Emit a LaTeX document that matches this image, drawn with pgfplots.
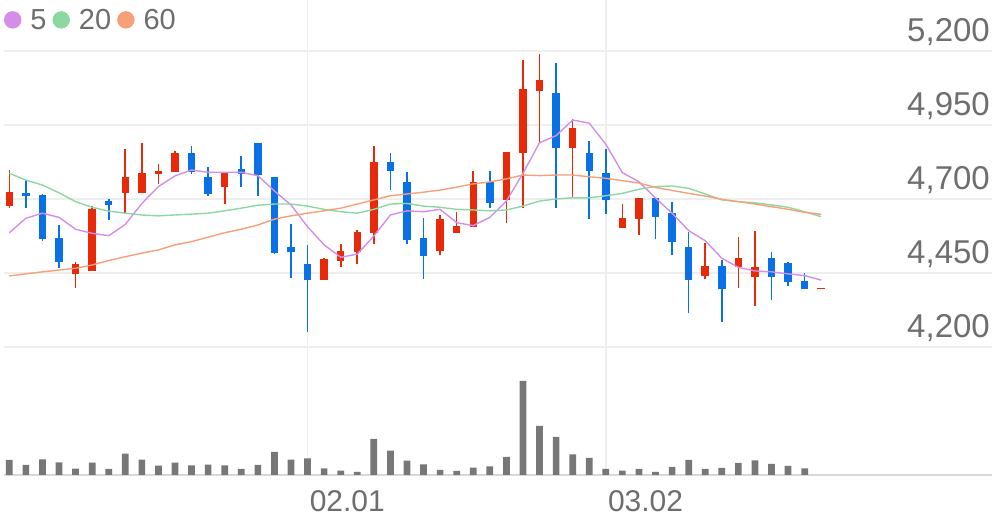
\documentclass[border=0pt]{standalone}
\usepackage{fontspec}
\setmainfont{Liberation Sans}
\usepackage{pgfplots}
\pgfplotsset{compat=1.18}
\usepackage{pgfplotstable}
\definecolor{upred}{HTML}{E62A0A}
\definecolor{dnblue}{HTML}{0A70E6}
\definecolor{mafive}{HTML}{D48EEA}
\definecolor{matwenty}{HTML}{8CD8A2}
\definecolor{masixty}{HTML}{F6A07A}
\definecolor{volgray}{HTML}{777777}
\definecolor{gridc}{HTML}{EEEEEE}
\definecolor{txtgray}{HTML}{6E6E6E}

\pgfplotstableread{
i open high low close
0 4676 4798 4669 4725
4 4447 4488 4400 4480
5 4458 4676 4458 4665
7 4719 4868 4649 4775
8 4721 4888 4721 4787
9 4783 4817 4750 4796
10 4792 4863 4792 4856
13 4742 4790 4683 4790
19 4426 4500 4426 4496
20 4492 4547 4469 4525
21 4520 4595 4479 4590
22 4586 4879 4547 4826
26 4525 4646 4511 4631
27 4586 4657 4586 4609
28 4606 4796 4606 4758
30 4697 4860 4620 4860
31 4856 5170 4671 5070
32 5066 5189 4890 5102
34 4873 4970 4702 4941
37 4603 4682 4603 4637
38 4632 4702 4578 4702
42 4441 4552 4430 4475
44 4471 4573 4398 4502
45 4437 4593 4338 4471
49 4395 4399 4395 4399
}\upc

\pgfplotstableread{
i open high low close
1 4721 4764 4669 4711
2 4713 4716 4558 4564
3 4569 4612 4466 4488
6 4694 4699 4629 4680
11 4856 4879 4783 4792
12 4775 4807 4710 4717
14 4800 4846 4742 4784
15 4890 4890 4710 4781
16 4775 4775 4514 4519
17 4537 4616 4434 4522
18 4480 4545 4252 4426
23 4826 4856 4730 4796
24 4756 4792 4548 4561
25 4567 4637 4430 4507
29 4758 4796 4669 4687
33 5059 5158 4671 4873
35 4856 4897 4631 4795
36 4787 4868 4649 4697
39 4702 4702 4564 4640
40 4652 4691 4511 4554
41 4539 4587 4314 4426
43 4474 4494 4283 4396
46 4502 4520 4359 4437
47 4485 4486 4406 4421
48 4424 4451 4395 4395
}\dnc

\pgfplotstableread{
i m5 m20 m60
0 4586 4787 4440
1 4635 4764 4447
2 4652 4747 4454
3 4638 4721 4460
4 4598 4691 4466
5 4584 4672 4477
6 4576 4659 4492
7 4614 4652 4505
8 4685 4646 4517
9 4742 4643 4528
10 4778 4646 4545
11 4798 4649 4556
12 4790 4652 4571
13 4790 4660 4586
14 4790 4669 4598
15 4779 4679 4612
16 4727 4683 4632
17 4680 4683 4643
18 4606 4676 4652
19 4545 4665 4660
20 4503 4657 4669
21 4514 4652 4683
22 4575 4665 4697
23 4646 4683 4711
24 4660 4685 4717
25 4657 4676 4723
26 4665 4672 4730
27 4620 4665 4740
28 4610 4663 4751
29 4638 4660 4758
30 4693 4663 4768
31 4787 4676 4781
32 4890 4693 4779
33 4914 4700 4781
34 4967 4704 4781
35 4956 4704 4775
36 4885 4711 4770
37 4789 4719 4762
38 4758 4733 4754
39 4703 4742 4739
40 4652 4744 4729
41 4593 4736 4719
42 4559 4717 4710
43 4500 4697 4699
44 4469 4691 4691
45 4457 4687 4683
46 4454 4680 4674
47 4447 4672 4665
48 4441 4657 4655
49 4426 4640 4648
}\ma

\pgfplotstableread{
i vol
0 15.0
1 10.0
2 15.7
3 12.7
4 6.3
5 12.3
6 6.0
7 21.3
8 15.3
9 9.3
10 12.3
11 9.7
12 10.3
13 9.7
14 6.0
15 10.0
16 23.0
17 15.3
18 16.7
19 6.7
20 4.3
21 3.0
22 36.0
23 24.3
24 14.3
25 10.7
26 5.0
27 4.0
28 7.3
29 8.7
30 18.0
31 94.0
32 49.0
33 38.0
34 20.7
35 17.0
36 6.0
37 4.3
38 6.0
39 3.0
40 8.0
41 15.0
42 6.0
43 7.0
44 12.0
45 14.7
46 11.0
47 9.0
48 6.7
}\vol

\pgfplotsset{
  candle/.style 2 args={forget plot, only marks, mark=*, mark size=0pt,
    mark options={draw opacity=0, fill opacity=0},
    error bars/.cd, y dir=plus, y explicit, error mark=none,
    error bar style={line width=#1, color=#2}, /pgfplots/.cd},
}

\begin{document}
\begin{tikzpicture}
\useasboundingbox (0,0) rectangle (996bp,519bp);
% price panel
\begin{axis}[
  at={(4bp,172bp)}, anchor=south west, scale only axis,
  width=988bp, height=347bp,
  xmin=-0.3199, xmax=59.306, ymin=4200, ymax=5372.3,
  axis line style={draw=none}, tick style={draw=none},
  xtick={18,36}, xticklabels={},
  ytick={4200,4450,4700,4950,5200},
  grid=major, grid style={color=gridc, line width=1.5bp},
  yticklabel pos=right,
  yticklabel style={anchor=base east, inner sep=0pt, xshift=-2bp, yshift=9bp,
    font=\fontsize{33bp}{36bp}\selectfont, text=txtgray},
  /pgf/number format/.cd, assume math mode=true, 1000 sep={,}, /pgfplots/.cd,
  legend style={at={(0,1)}, anchor=north west, draw=none, fill=none,
    inner sep=0pt, outer sep=0pt, yshift=-9bp, legend columns=-1,
    font=\fontsize{29bp}{30bp}\selectfont, text=txtgray,
    nodes={inner sep=0pt},
    /tikz/every even column/.append style={column sep=6bp},
    /tikz/every odd column/.append style={column sep=9bp}},
  legend image code/.code={\fill (8bp,0bp) circle (8bp);},
]
% wicks
\addplot[candle={1.6bp}{upred}]
  table[x=i, y=low, y error expr=\thisrow{high}-\thisrow{low}] {\upc};
\addplot[candle={1.6bp}{dnblue}]
  table[x=i, y=low, y error expr=\thisrow{high}-\thisrow{low}] {\dnc};
% bodies
\addplot[candle={7.5bp}{upred}]
  table[x=i, y=open, y error expr=\thisrow{close}-\thisrow{open}] {\upc};
\addplot[candle={7.5bp}{dnblue}]
  table[x=i, y=close, y error expr=\thisrow{open}-\thisrow{close}] {\dnc};
% moving averages
\addplot[color=mafive, line width=1.4bp] table[x=i, y=m5] {\ma};
\addlegendentry{5}
\addplot[color=matwenty, line width=1.4bp] table[x=i, y=m20] {\ma};
\addlegendentry{20}
\addplot[color=masixty, line width=1.4bp] table[x=i, y=m60] {\ma};
\addlegendentry{60}
\end{axis}
% volume panel
\begin{axis}[
  at={(4bp,44bp)}, anchor=south west, scale only axis,
  width=988bp, height=128bp,
  xmin=-0.3199, xmax=59.306, ymin=0, ymax=128,
  axis line style={draw=none}, tick style={draw=none},
  xtick={18,36}, xticklabels={02.01,03.02},
  ytick={0}, yticklabels={},
  xmajorgrids, ymajorgrids,
  grid style={color=gridc, line width=1.5bp},
  y grid style={color=gridc!80!gray, line width=2bp},
  xticklabel style={anchor=base west, inner sep=0pt, xshift=2bp, yshift=-36bp,
    font=\fontsize{30bp}{32bp}\selectfont, text=txtgray},
]
\addplot[ybar, bar width=6.7bp, fill=volgray, draw=none] table[x=i, y=vol] {\vol};
\end{axis}
\end{tikzpicture}
\end{document}
